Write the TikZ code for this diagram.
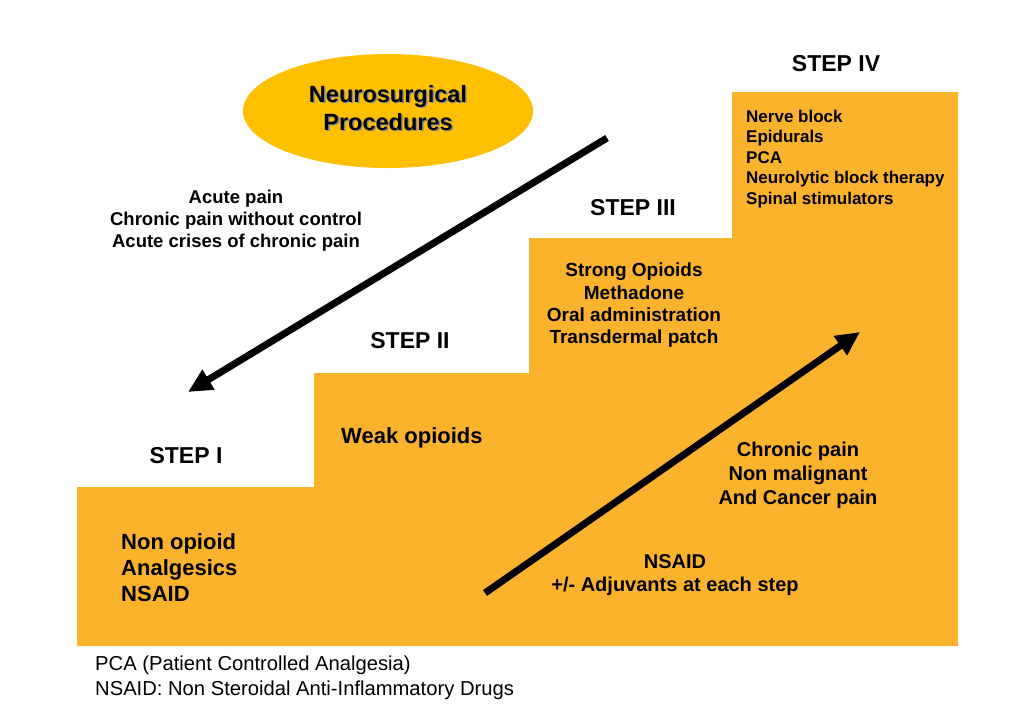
\documentclass[tikz,border=0pt]{standalone}
\usepackage{fontspec}
\setmainfont{Liberation Sans}
\usetikzlibrary{arrows.meta,shapes.geometric}
\definecolor{stair}{RGB}{251,179,45}
\definecolor{gold}{RGB}{255,192,0}
\newcommand\fsz[2]{\fontsize{#1}{#2}\selectfont}
\begin{document}
\begin{tikzpicture}[x=1pt,y=-1pt,
  lbl/.style={inner sep=0pt, text=black},
  bigarrow/.style={line width=7pt, draw=black, -{Triangle[length=24pt,width=22pt]}}]
\useasboundingbox (0,0) rectangle (1024,718);
\fill[white] (0,0) rectangle (1024,718);
% staircase
\fill[stair] (77,646) -- (77,487) -- (314,487) -- (314,373) -- (529,373) -- (529,238)
  -- (732,238) -- (732,92) -- (958,92) -- (958,646) -- cycle;
% ellipse
\node[ellipse, fill=gold, minimum width=290pt, minimum height=114pt, inner sep=0pt] (neuro) at (388,111) {};
\node[lbl, text=black!45, align=center, font=\bfseries\fsz{23.5}{28}] (neuroshadow) at (389.5,109.5) {Neurosurgical\\Procedures};
\node[lbl, align=center, font=\bfseries\fsz{23.5}{28}] (neurotext) at (388,108) {Neurosurgical\\Procedures};
% step labels
\node[lbl, font=\bfseries\fsz{23}{27}] (s4) at (836,64) {STEP IV};
\node[lbl, font=\bfseries\fsz{23}{27}] (s3) at (633,208) {STEP III};
\node[lbl, font=\bfseries\fsz{23}{27}] (s2) at (410,341) {STEP II};
\node[lbl, font=\bfseries\fsz{23}{27}] (s1) at (186,456) {STEP I};
% texts
\node[lbl, align=center, font=\bfseries\fsz{18.5}{22}] (acute) at (236,220.5) {Acute pain\\Chronic pain without control\\Acute crises of chronic pain};
\node[lbl, anchor=west, align=left, font=\bfseries\fsz{22}{26}] (nonop) at (121,568) {Non opioid\\Analgesics\\NSAID};
\node[lbl, anchor=west, font=\bfseries\fsz{22}{26}] (weak) at (341,438) {Weak opioids};
\node[lbl, align=center, font=\bfseries\fsz{19}{22.3}] (strong) at (634,305.5) {Strong Opioids\\Methadone\\Oral administration\\Transdermal patch};
\node[lbl, anchor=west, align=left, font=\bfseries\fsz{17}{20.5}] (nerve) at (746,159) {Nerve block\\Epidurals\\PCA\\Neurolytic block therapy\\Spinal stimulators};
\node[lbl, align=center, font=\bfseries\fsz{20}{24}] (chronic) at (798,475) {Chronic pain\\Non malignant\\And Cancer pain};
\node[lbl, align=center, font=\bfseries\fsz{20}{23}] (nsaid) at (675,575) {NSAID\\+/- Adjuvants at each step};
\node[lbl, anchor=west, align=left, font=\fsz{20.2}{24.5}] (foot) at (95,678) {PCA (Patient Controlled Analgesia)\\NSAID: Non Steroidal Anti-Inflammatory Drugs};
% arrows
\coordinate (downstart) at (607,138);
\coordinate (downend) at (188,392);
\coordinate (upstart) at (485,593);
\coordinate (upend) at (860,332);
\draw[bigarrow] (downstart) -- (downend);
\draw[bigarrow] (upstart) -- (upend);
\end{tikzpicture}
\end{document}
